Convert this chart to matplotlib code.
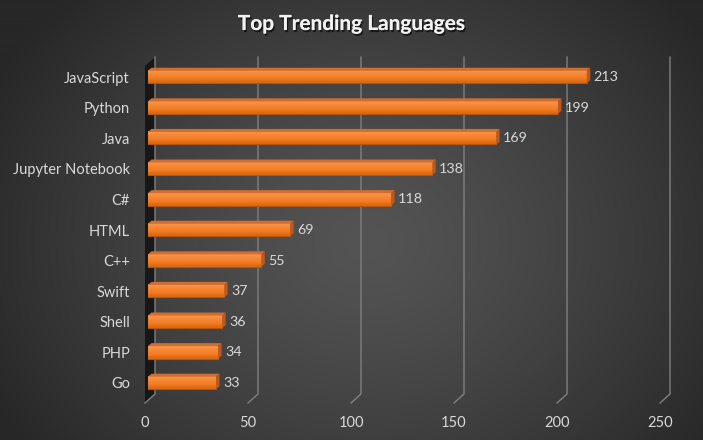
import numpy as np
import matplotlib
matplotlib.use("Agg")
import matplotlib.pyplot as plt
from matplotlib.transforms import IdentityTransform, ScaledTranslation
from matplotlib.patches import Polygon
from matplotlib.lines import Line2D
import matplotlib.patheffects as pe

categories = ["JavaScript", "Python", "Java", "Jupyter Notebook", "C#", "HTML",
              "C++", "Swift", "Shell", "PHP", "Go"]
values = [213, 199, 169, 138, 118, 69, 55, 37, 36, 34, 33]
xticks = [0, 50, 100, 150, 200, 250]
title = "Top Trending Languages"

plt.rcParams['font.family'] = ['Lato', 'DejaVu Sans']

W, H, DPI = 703, 440, 100
fig = plt.figure(figsize=(W / DPI, H / DPI), dpi=DPI)

# radial gradient background
bg = fig.add_axes([0, 0, 1, 1])
bg.set_axis_off()
yy, xx = np.mgrid[0:H, 0:W]
r = np.sqrt(((xx - W * 0.52) / (W * 0.60)) ** 2 + ((yy - H * 0.55) / (H * 0.80)) ** 2)
r = np.clip(r, 0, 1)
lev = (0x54 - (0x54 - 0x27) * r ** 1.3) / 255.0
img = np.dstack([lev, lev, lev])
bg.imshow(img, extent=(0, 1, 0, 1), aspect='auto', origin='upper')
bg.set_xlim(0, 1)
bg.set_ylim(0, 1)

# main axes (front plane)
left_px, right_px, top_px, bot_px = 148, 663, 66, 403
ax = fig.add_axes([left_px / W, (H - bot_px) / H, (right_px - left_px) / W, (bot_px - top_px) / H])
ax.patch.set_alpha(0)
for s in ax.spines.values():
    s.set_visible(False)
n = len(categories)
ypos = np.arange(n)[::-1]
ylo, yhi = -0.654, 10.36
ax.set_xlim(0, 250)
ax.set_ylim(ylo, yhi)

GX0, DX, DY = -3, 10, 9   # gridline front shift and depth offset (pixels)
ident = IdentityTransform()


def disp(x, y, dx=0, dy=0):
    p = ax.transData.transform((x, y))
    return (p[0] + dx, p[1] + dy)


def add(artist):
    artist.set_clip_on(False)
    ax.add_artist(artist)


# left wall
wall = Polygon([disp(0, yhi, GX0), disp(0, ylo, GX0), disp(0, ylo, GX0 + DX, DY), disp(0, yhi, GX0 + DX, DY)],
               closed=True, transform=ident, facecolor='#111111', edgecolor='none', alpha=0.85, zorder=1)
add(wall)

# gridlines
gcol = '#808080'
for v in xticks:
    fb = disp(v, ylo, GX0)
    bb = disp(v, ylo, GX0 + DX, DY)
    bt = disp(v, yhi, GX0 + DX, DY)
    add(Line2D([fb[0], bb[0], bt[0]], [fb[1], bb[1], bt[1]], transform=ident,
               color=gcol, lw=1.0, zorder=2))

# bars
h = 0.41
BX, BY = 3.5, 3
grad = np.array([[0.878, 0.42, 0.07], [0.95, 0.49, 0.15], [0.965, 0.52, 0.19], [0.97, 0.57, 0.27]])
grad = grad.reshape(4, 1, 3)
for yv, v in zip(ypos, values):
    ax.imshow(grad, extent=(0, v, yv - h / 2, yv + h / 2), origin='lower', aspect='auto',
              interpolation='bilinear', zorder=3)
    ax.plot([0, v], [yv - h / 2, yv - h / 2], color='#b35412', lw=0.8, zorder=3.5)
    top = Polygon([disp(0, yv + h / 2), disp(v, yv + h / 2), disp(v, yv + h / 2, BX, BY), disp(0, yv + h / 2, BX, BY)],
                  closed=True, transform=ident, facecolor='#cf6d33', edgecolor='none', zorder=4)
    side = Polygon([disp(v, yv - h / 2), disp(v, yv + h / 2), disp(v, yv + h / 2, BX, BY), disp(v, yv - h / 2, BX, BY)],
                   closed=True, transform=ident, facecolor='#b85a24', edgecolor='none', zorder=4)
    add(top)
    add(side)
    ax.annotate(str(v), (v, yv), xytext=(7, 0), textcoords='offset pixels', va='center',
                ha='left', fontsize=10.3, color='#d9d9d9', zorder=5)

ax.set_xlim(0, 250)
ax.set_ylim(ylo, yhi)
ax.set_yticks(ypos, categories)
ax.set_xticks(xticks, [str(t) for t in xticks])
ax.tick_params(axis='both', length=0, colors='#d9d9d9', labelsize=10.5)
ax.tick_params(axis='y', pad=13)
ax.tick_params(axis='x', pad=9)
for lab in ax.get_xticklabels():
    lab.set_transform(lab.get_transform() + ScaledTranslation(GX0 / DPI, 0, fig.dpi_scale_trans))

fig.text(0.5, 1 - 24 / H, title, ha='center', va='center', fontsize=15, fontweight='bold',
         color='#f2f2f2',
         path_effects=[pe.withSimplePatchShadow(offset=(1, -1.5), shadow_rgbFace='black', alpha=0.6), pe.Normal()])

fig.savefig('out.png', dpi=DPI)
